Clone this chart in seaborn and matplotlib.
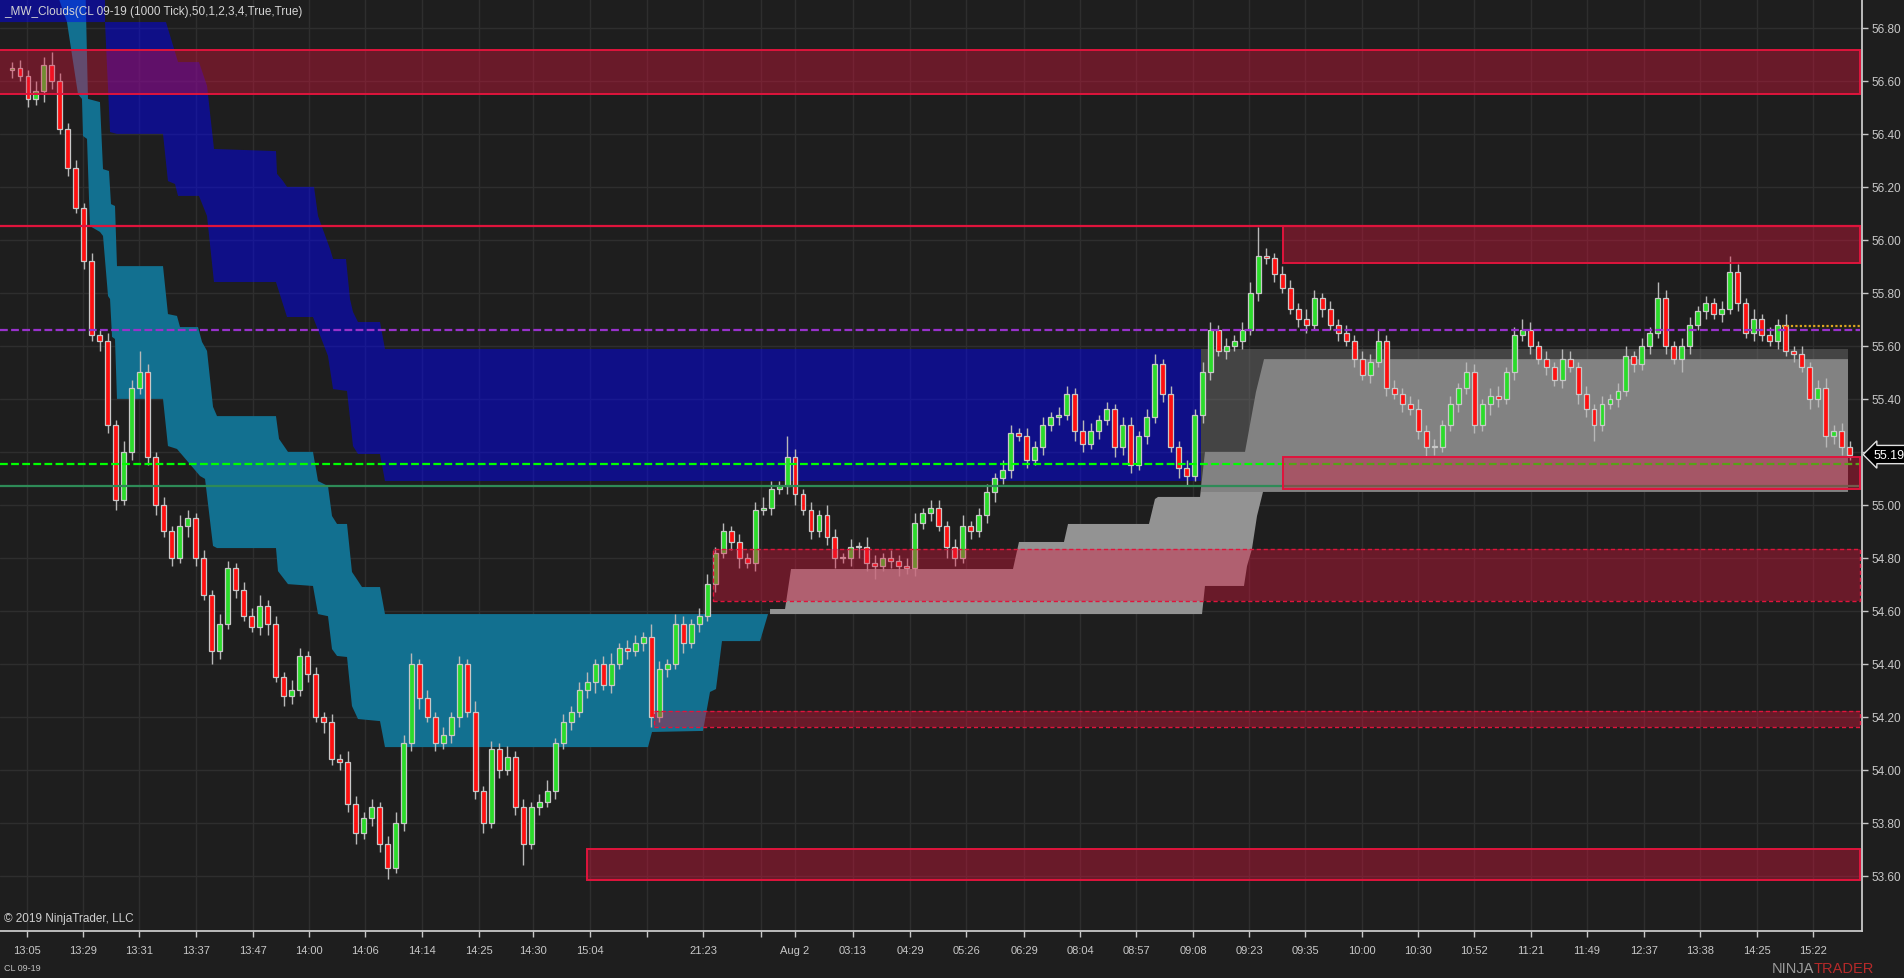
import numpy as np
import matplotlib
matplotlib.use("Agg")
import matplotlib.pyplot as plt
import seaborn as sns
from matplotlib.patches import Rectangle, Polygon

# ---------------- data ----------------
first_open = 56.64
closes = [
    56.65, 56.62, 56.53, 56.56, 56.66, 56.60, 56.42, 56.27, 56.12, 55.92,
    55.64, 55.62, 55.30, 55.02, 55.20, 55.44, 55.50, 55.18, 55.00, 54.90,
    54.80, 54.92, 54.95, 54.80, 54.66, 54.45, 54.55, 54.76, 54.68, 54.58,
    54.54, 54.62, 54.55, 54.35, 54.28, 54.30, 54.43, 54.36, 54.20, 54.18,
    54.04, 54.03, 53.87, 53.76, 53.82, 53.86, 53.72, 53.63, 53.80, 54.10,
    54.40, 54.27, 54.20, 54.10, 54.13, 54.20, 54.40, 54.22, 53.92, 53.80,
    54.08, 54.00, 54.05, 53.86, 53.72, 53.86, 53.88, 53.92, 54.10, 54.18,
    54.22, 54.30, 54.33, 54.40, 54.32, 54.40, 54.46, 54.45, 54.48, 54.50,
    54.20, 54.38, 54.40, 54.55, 54.48, 54.55, 54.58, 54.70, 54.82, 54.90,
    54.86, 54.80, 54.78, 54.98, 54.99, 55.06, 55.07, 55.18, 55.04, 54.98,
    54.90, 54.96, 54.88, 54.80, 54.80, 54.84, 54.84, 54.78, 54.77, 54.80,
    54.79, 54.77, 54.76, 54.93, 54.97, 54.99, 54.92, 54.84, 54.80, 54.92,
    54.90, 54.96, 55.05, 55.10, 55.13, 55.27, 55.26, 55.17, 55.22, 55.30,
    55.33, 55.34, 55.42, 55.28, 55.23, 55.28, 55.32, 55.36, 55.22, 55.30,
    55.15, 55.26, 55.33, 55.53, 55.42, 55.22, 55.14, 55.11, 55.34, 55.50,
    55.66, 55.58, 55.60, 55.62, 55.66, 55.80, 55.94, 55.93, 55.87, 55.82,
    55.74, 55.70, 55.68, 55.78, 55.74, 55.68, 55.65, 55.62, 55.55, 55.49,
    55.54, 55.62, 55.44, 55.42, 55.38, 55.36, 55.28, 55.22, 55.22, 55.30,
    55.38, 55.44, 55.50, 55.30, 55.38, 55.41, 55.40, 55.50, 55.64, 55.66,
    55.60, 55.55, 55.52, 55.47, 55.55, 55.52, 55.42, 55.36, 55.30, 55.38,
    55.40, 55.43, 55.56, 55.53, 55.60, 55.65, 55.78, 55.60, 55.55, 55.60,
    55.68, 55.73, 55.76, 55.72, 55.74, 55.88, 55.76, 55.65, 55.70, 55.64,
    55.62, 55.68, 55.58, 55.57, 55.52, 55.40, 55.44, 55.26, 55.28, 55.22,
    55.19,
]
wick_up_cents = [
    2, 3, 2, 4, 3, 5, 3, 2, 3, 2,
    3, 2, 3, 2, 4, 3, 8, 3, 2, 3,
    2, 4, 3, 2, 3, 2, 4, 3, 2, 3,
    3, 4, 2, 3, 2, 4, 3, 2, 3, 2,
    3, 2, 4, 3, 2, 3, 2, 3, 4, 3,
    4, 2, 3, 2, 3, 2, 3, 2, 4, 2,
    3, 2, 4, 2, 3, 2, 3, 4, 2, 3,
    2, 3, 4, 2, 3, 4, 2, 3, 3, 2,
    5, 3, 2, 4, 3, 2, 3, 4, 2, 3,
    2, 3, 2, 3, 4, 3, 2, 8, 3, 2,
    3, 2, 4, 3, 2, 3, 2, 4, 3, 2,
    3, 2, 3, 4, 2, 3, 3, 2, 3, 4,
    2, 3, 3, 2, 4, 3, 2, 3, 2, 3,
    2, 3, 3, 2, 4, 3, 2, 3, 2, 3,
    3, 2, 3, 4, 2, 3, 2, 3, 2, 4,
    3, 2, 3, 2, 3, 4, 11, 3, 2, 3,
    3, 2, 4, 3, 2, 3, 2, 3, 2, 3,
    3, 4, 2, 3, 2, 3, 4, 2, 3, 2,
    3, 2, 4, 3, 2, 3, 4, 2, 3, 4,
    3, 2, 3, 2, 4, 3, 2, 3, 2, 3,
    2, 3, 4, 2, 3, 2, 6, 3, 2, 3,
    3, 2, 3, 2, 3, 6, 3, 2, 4, 2,
    3, 2, 4, 2, 3, 2, 3, 4, 2, 3,
    2,
]
wick_dn_cents = [
    3, 2, 3, 2, 4, 3, 2, 3, 2, 3,
    2, 4, 3, 4, 2, 3, 2, 3, 4, 2,
    3, 2, 4, 3, 2, 5, 3, 2, 3, 2,
    2, 3, 4, 2, 4, 3, 2, 3, 2, 4,
    2, 3, 3, 4, 2, 3, 3, 4, 2, 3,
    3, 4, 2, 3, 2, 3, 4, 2, 3, 4,
    2, 3, 2, 3, 8, 2, 3, 2, 3, 2,
    3, 2, 3, 4, 2, 3, 2, 3, 2, 3,
    4, 2, 3, 2, 4, 2, 3, 2, 3, 2,
    3, 4, 2, 3, 2, 3, 2, 3, 4, 2,
    3, 2, 3, 4, 2, 3, 4, 3, 5, 2,
    3, 4, 2, 3, 2, 3, 2, 4, 3, 2,
    3, 2, 3, 4, 2, 3, 2, 3, 2, 3,
    2, 3, 2, 4, 3, 2, 3, 2, 4, 3,
    3, 2, 3, 2, 3, 2, 4, 4, 2, 3,
    3, 2, 3, 2, 3, 2, 3, 2, 3, 2,
    2, 3, 3, 2, 3, 2, 3, 2, 3, 2,
    3, 2, 3, 2, 3, 2, 3, 4, 3, 2,
    2, 3, 2, 3, 2, 4, 3, 2, 3, 2,
    3, 2, 3, 2, 3, 2, 4, 3, 6, 2,
    2, 3, 2, 3, 2, 3, 2, 3, 2, 5,
    3, 2, 3, 2, 3, 2, 3, 2, 3, 2,
    2, 3, 2, 3, 2, 4, 3, 4, 3, 3,
    2,
]

# time axis (bar-index positions of the labelled ticks)
tick_pos = [1.88, 8.89, 15.89, 23.03, 30.16, 37.17, 44.18, 51.31, 58.45, 65.21,
            72.34, 79.47, 86.48, 93.74, 98.0, 105.26, 112.39, 119.4, 126.66, 133.67,
            140.68, 147.81, 154.82, 161.83, 168.96, 175.97, 182.98, 190.11, 197.12,
            204.26, 211.26, 218.4, 225.41]
tick_labels = ['13:05', '13:29', '13:31', '13:37', '13:47', '14:00', '14:06', '14:14',
               '14:25', '14:30', '15:04', '', '21:23', '', 'Aug 2', '03:13', '04:29',
               '05:26', '06:29', '08:04', '08:57', '09:08', '09:23', '09:35', '10:00',
               '10:30', '10:52', '11:21', '11:49', '12:37', '13:38', '14:25', '15:22']
price_ticks = [53.60, 53.80, 54.00, 54.20, 54.40, 54.60, 54.80, 55.00, 55.20,
               55.40, 55.60, 55.80, 56.00, 56.20, 56.40, 56.60, 56.80]

# clouds (bar index, price)
blue_up_x = [-2.13, 11.64, 11.64, 19.27, 20.78, 23.40, 24.41, 25.28, 33.04, 33.17, 33.92,
             34.42, 37.80, 38.30, 39.80, 40.18, 41.80, 42.30, 42.68, 43.30, 46.06, 46.68, 148.81]
blue_up_p = [57.02, 57.02, 56.822, 56.822, 56.671, 56.671, 56.581, 56.343, 56.335, 56.249, 56.222,
             56.20, 56.20, 56.09, 55.966, 55.928, 55.928, 55.777, 55.728, 55.69, 55.69, 55.588, 55.588]
blue_lo_x = [-2.13, 11.64, 12.27, 13.14, 18.90, 19.52, 20.40, 20.78, 23.40, 24.41, 25.28,
             33.04, 34.42, 37.67, 39.55, 40.18, 41.93, 42.68, 43.30, 46.06, 46.68, 148.81]
blue_lo_p = [56.822, 56.822, 56.407, 56.40, 56.40, 56.222, 56.211, 56.166, 56.166, 56.09, 55.841,
             55.841, 55.709, 55.709, 55.562, 55.437, 55.43, 55.222, 55.192, 55.192, 55.09, 55.09]

teal_up_x = [5.63, 9.14, 9.51, 11.01, 11.39, 12.14, 12.39, 12.89, 13.14, 18.90, 19.52, 20.65,
             21.03, 23.28, 23.78, 24.41, 25.16, 25.66, 33.04, 33.42, 34.54, 37.67, 38.30, 39.55,
             40.05, 40.68, 41.93, 42.55, 43.30, 43.80, 46.06, 46.68, 94.62]
teal_up_p = [57.02, 57.02, 56.532, 56.52, 56.267, 56.26, 56.135, 56.128, 55.901, 55.901, 55.72,
             55.713, 55.671, 55.671, 55.615, 55.581, 55.37, 55.335, 55.335, 55.249, 55.20, 55.20,
             55.09, 55.071, 54.958, 54.928, 54.928, 54.747, 54.713, 54.69, 54.69, 54.588, 54.588]
teal_lo_x = [5.63, 5.88, 6.88, 8.26, 8.76, 8.89, 9.39, 9.64, 9.76, 11.01, 11.39, 12.02, 12.27,
             12.52, 12.89, 13.14, 18.90, 19.52, 20.65, 23.53, 24.16, 25.16, 25.66, 33.04, 33.29,
             34.54, 37.67, 38.30, 39.55, 40.05, 40.68, 41.93, 42.55, 43.30, 46.06, 46.68, 79.60,
             80.10, 86.48, 87.36, 88.11, 88.86, 93.62, 94.62]
teal_lo_p = [57.02, 56.909, 56.822, 56.55, 56.532, 56.392, 56.381, 56.154, 56.052, 56.03, 56.015,
             55.788, 55.777, 55.634, 55.626, 55.40, 55.40, 55.222, 55.211, 55.109, 55.098, 54.845,
             54.837, 54.837, 54.75, 54.701, 54.694, 54.588, 54.58, 54.456, 54.43, 54.426, 54.241,
             54.192, 54.184, 54.086, 54.086, 54.143, 54.147, 54.294, 54.305, 54.486, 54.486, 54.588]

gray_up_x = [94.87, 96.75, 97.50, 125.28, 126.03, 131.66, 132.17, 142.30, 143.05, 143.43,
             148.69, 149.31, 154.32, 155.69, 156.70, 229.79]
gray_up_p = [54.607, 54.607, 54.758, 54.758, 54.86, 54.86, 54.928, 54.928, 55.022, 55.03,
             55.03, 55.20, 55.20, 55.426, 55.55, 55.55]
gray_lo_x = [94.87, 148.94, 149.31, 154.19, 154.57, 155.19, 155.82, 156.57, 229.79]
gray_lo_p = [54.588, 54.588, 54.694, 54.694, 54.769, 54.834, 54.958, 55.049, 55.049]

dark_x = [148.81, 229.79]
dark_top = [55.588, 55.588]
dark_bot = [55.049, 55.049]

# supply zones
zone_start = [-3.0, 159.07, 159.07, 87.73, 80.35, 71.96]
zone_end = [231.29, 231.29, 231.29, 231.29, 231.29, 231.29]
zone_low = [56.552, 55.913, 55.06, 54.637, 54.162, 53.584]
zone_high = [56.718, 56.053, 55.181, 54.834, 54.222, 53.701]
zone_dashed = [False, False, False, True, True, False]

# horizontal levels
level_price = [56.052, 55.66, 55.155, 55.071, 55.675]
level_start = [-1.5, -1.5, -1.5, -1.5, 221.5]
level_end = [231.29, 231.29, 231.29, 231.29, 231.29]
level_color = ['#e0143c', '#9932cc', '#00ff00', '#2e8b57', '#daa520']
level_dash = [None, (3.5, 1.5), (3.5, 1.5), None, (1, 1)]

# ---------------- style ----------------
BG = '#1e1e1e'
TXT = '#c8c8c8'
sns.set_theme(style='dark', rc={'axes.facecolor': BG, 'figure.facecolor': BG,
                                'axes.edgecolor': TXT, 'grid.color': '#303030'})
plt.rcParams['font.family'] = ['Liberation Sans', 'DejaVu Sans']

fig = plt.figure(figsize=(19.04, 9.79), dpi=100, facecolor=BG)
ax = fig.add_axes([0, 47 / 979, 1862 / 1904, 932 / 979])
ax.set_facecolor(BG)
ax.set_xlim(-1.502, 231.54)
ax.set_ylim(53.392, 56.909)

# clouds
ax.add_patch(Polygon(np.column_stack([teal_up_x + teal_lo_x[::-1], teal_up_p + teal_lo_p[::-1]]),
                     closed=True, facecolor='#127090', edgecolor='none', zorder=1.0))
ax.add_patch(Polygon(np.column_stack([blue_up_x + blue_lo_x[::-1], blue_up_p + blue_lo_p[::-1]]),
                     closed=True, facecolor=(0, 0, 1, 0.47), edgecolor='none', zorder=1.1))
ax.add_patch(Polygon(np.column_stack([gray_up_x + gray_lo_x[::-1], gray_up_p + gray_lo_p[::-1]]),
                     closed=True, facecolor='#939393', edgecolor='none', zorder=1.2))
ax.fill_between(dark_x, dark_bot, dark_top, facecolor=(0.44, 0.44, 0.44, 0.47),
                edgecolor='none', zorder=1.3)

# candles
c = np.array(closes)
o = np.array([first_open] + closes[:-1])
hi = np.maximum(o, c) + np.array(wick_up_cents) / 100.0
lo = np.minimum(o, c) - np.array(wick_dn_cents) / 100.0
idx = np.arange(len(c))
up = c >= o
ax.vlines(idx, lo, hi, color='#b8b8b8', lw=1.0, zorder=3.0)
ax.bar(idx, np.maximum(np.abs(c - o), 0.004), bottom=np.minimum(o, c), width=0.62,
       color=np.where(up, '#2bdc2b', '#ff1010'), edgecolor='#c8c8c8', linewidth=0.9, zorder=3.1)

# levels (seaborn lines)
for p, x0, x1, col, dash in zip(level_price, level_start, level_end, level_color, level_dash):
    sns.lineplot(x=[x0, x1], y=[p, p], ax=ax, color=col, linewidth=1.6, zorder=3.5, legend=False)
    if dash is not None:
        ax.lines[-1].set_dashes(dash)

# zones
for xs, xe, lo_p, hi_p, dsh in zip(zone_start, zone_end, zone_low, zone_high, zone_dashed):
    ax.add_patch(Rectangle((xs, lo_p), xe - xs, hi_p - lo_p, facecolor=(0.862, 0.078, 0.235, 0.40),
                           edgecolor='none', zorder=4))
    ax.add_patch(Rectangle((xs, lo_p), xe - xs, hi_p - lo_p, facecolor='none',
                           edgecolor='#e0143c', lw=1.0 if dsh else 1.4,
                           linestyle=(0, (3, 2)) if dsh else '-', zorder=4.1))

# axes styling
ax.grid(True, color='#2e2e2e', lw=1.0)
ax.set_axisbelow(True)
for s in ['left', 'top']:
    ax.spines[s].set_visible(False)
for s in ['right', 'bottom']:
    ax.spines[s].set_color(TXT)
    ax.spines[s].set_linewidth(1.3)
ax.yaxis.tick_right()
ax.set_yticks(price_ticks)
ax.set_yticklabels([f'{v:.2f}' for v in price_ticks])
ax.set_xticks(tick_pos)
ax.set_xticklabels(tick_labels)
ax.tick_params(axis='y', colors=TXT, labelcolor=TXT, length=4, width=1, pad=3, labelsize=8.5,
               right=True, left=False)
ax.tick_params(axis='x', colors=TXT, labelcolor=TXT, length=4, width=1, pad=6, labelsize=8,
               bottom=True)
ax.set_xlabel('')
ax.set_ylabel('')

# last price marker
ax.text(1.006, closes[-1], f'{closes[-1]:.2f}', transform=ax.get_yaxis_transform(),
        ha='left', va='center', color='white', fontsize=9, zorder=10, clip_on=False,
        bbox=dict(boxstyle='larrow,pad=0.25', facecolor='black', edgecolor='#e0e0e0', lw=1))

# texts
fig.text(4 / 1904, 1 - 12 / 979, '_MW_Clouds(CL 09-19 (1000 Tick),50,1,2,3,4,True,True)',
         color='#d4d4d4', fontsize=8.5, va='center', ha='left')
fig.text(4 / 1904, 1 - 919 / 979, '© 2019 NinjaTrader, LLC', color='#d0d0d0',
         fontsize=8.5, va='center', ha='left')
fig.text(4 / 1904, 1 - 969 / 979, 'CL 09-19', color='#c0c0c0', fontsize=6.5, va='center', ha='left')
fig.text(1814 / 1904, 1 - 969 / 979, 'NINJA', color='#9a9a9a', fontsize=10.5, va='center', ha='right')
fig.text(1814 / 1904, 1 - 969 / 979, 'TRADER', color='#b52a2a', fontsize=10.5, va='center', ha='left')

fig.savefig('out.png', dpi=100, facecolor=BG)
